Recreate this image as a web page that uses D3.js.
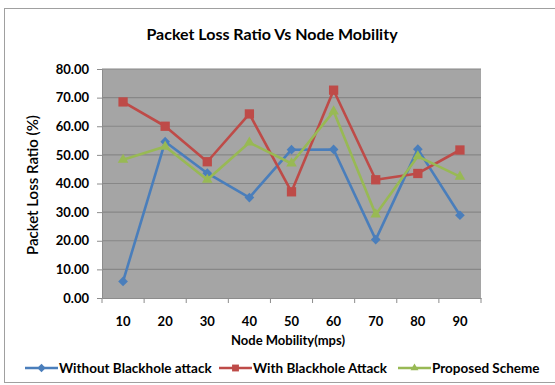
<!DOCTYPE html>
<html>
<head>
<meta charset="utf-8">
<script src="https://cdn.jsdelivr.net/npm/d3@7"></script>
<style>
  html, body { margin: 0; padding: 0; background: #fff; }
  svg { display: block; }
  text { font-family: Lato, "Open Sans", sans-serif; fill: #000; }
</style>
</head>
<body>
<svg id="chart" width="555" height="385"></svg>
<script>
// Node mobility (mps) categories
const mobility = ["10", "20", "30", "40", "50", "60", "70", "80", "90"];
// Packet loss ratio (%) per scheme
const withoutAttack = [5.8, 54.6, 43.6, 35.1, 51.8, 51.9, 20.4, 52.0, 28.9];
const withAttack    = [68.5, 60.0, 47.6, 64.3, 37.1, 72.6, 41.3, 43.5, 51.7];
const proposed      = [48.3, 52.9, 41.3, 54.3, 47.0, 65.2, 29.2, 49.5, 42.4];
const yTicks = [0, 10, 20, 30, 40, 50, 60, 70, 80];

const series = [
  { name: "Without Blackhole attack", values: withoutAttack, color: "#4a7ebb", marker: "diamond" },
  { name: "With Blackhole Attack",    values: withAttack,    color: "#be4b48", marker: "square" },
  { name: "Proposed Scheme",          values: proposed,      color: "#98b954", marker: "triangle" }
];

const svg = d3.select("#chart");

// chart frame
svg.append("rect")
  .attr("x", 4.5).attr("y", 8.5).attr("width", 560).attr("height", 374)
  .attr("fill", "#fff").attr("stroke", "#a0a0a0").attr("stroke-width", 1);

const plot = { left: 102, right: 481, top: 69, bottom: 298 };

const x = d3.scaleBand().domain(mobility).range([plot.left, plot.right]);
const y = d3.scaleLinear().domain([0, 80]).range([plot.bottom, plot.top]);

// plot area background
svg.append("rect")
  .attr("x", plot.left).attr("y", plot.top)
  .attr("width", plot.right - plot.left).attr("height", plot.bottom - plot.top)
  .attr("fill", "#a5a5a5");

// gridlines
svg.append("g")
  .selectAll("line")
  .data(yTicks.filter(d => d > 0))
  .join("line")
  .attr("x1", plot.left).attr("x2", plot.right)
  .attr("y1", d => y(d)).attr("y2", d => y(d))
  .attr("stroke", "#878787").attr("stroke-width", 1.2);

// y axis
const yAxis = svg.append("g")
  .attr("transform", `translate(${plot.left},0)`)
  .call(d3.axisLeft(y).tickValues(yTicks).tickFormat(d3.format(".2f")).tickSize(5).tickPadding(8));
yAxis.select(".domain").attr("stroke", "#8c8c8c");
yAxis.selectAll(".tick line").attr("stroke", "#8c8c8c");
yAxis.selectAll(".tick text")
  .attr("font-size", 13).attr("font-weight", "bold").attr("font-family", "Lato, sans-serif").attr("fill", "#000");

// x axis with ticks between categories
const xAxis = svg.append("g")
  .attr("transform", `translate(0,${plot.bottom})`)
  .call(d3.axisBottom(x).tickSize(0).tickPadding(19));
xAxis.select(".domain").attr("stroke", "#8c8c8c");
xAxis.selectAll(".tick text")
  .attr("font-size", 13).attr("font-weight", "bold").attr("font-family", "Lato, sans-serif").attr("fill", "#000");
xAxis.append("g")
  .selectAll("line")
  .data(d3.range(mobility.length + 1))
  .join("line")
  .attr("x1", i => plot.left + i * x.step()).attr("x2", i => plot.left + i * x.step())
  .attr("y1", 0).attr("y2", 5)
  .attr("stroke", "#8c8c8c");

// title and axis titles
svg.append("text")
  .attr("x", 272).attr("y", 40).attr("text-anchor", "middle")
  .attr("font-size", 16).attr("font-weight", "bold")
  .text("Packet Loss Ratio Vs Node Mobility");

svg.append("text")
  .attr("transform", "translate(38,185) rotate(-90)").attr("text-anchor", "middle")
  .attr("font-size", 15).attr("font-weight", 600)
  .text("Packet Loss Ratio (%)");

svg.append("text")
  .attr("x", 288).attr("y", 345).attr("text-anchor", "middle")
  .attr("font-size", 13).attr("font-weight", "bold")
  .text("Node Mobility(mps)");

// marker shapes
const symbolFor = {
  diamond: d3.symbol().type(d3.symbolDiamond2).size(60),
  square: d3.symbol().type(d3.symbolSquare2).size(110),
  triangle: d3.symbol().type(d3.symbolTriangle2).size(80)
};

const line = d3.line()
  .x((d, i) => x(mobility[i]) + x.bandwidth() / 2)
  .y(d => y(d));

series.forEach(s => {
  const g = svg.append("g");
  g.append("path")
    .attr("d", line(s.values))
    .attr("fill", "none").attr("stroke", s.color).attr("stroke-width", 2.6)
    .attr("stroke-linejoin", "round");
  g.selectAll("path.mark")
    .data(s.values)
    .join("path")
    .attr("class", "mark")
    .attr("d", symbolFor[s.marker])
    .attr("transform", (d, i) => `translate(${x(mobility[i]) + x.bandwidth() / 2},${y(d)})`)
    .attr("fill", s.color);
});

// legend
const legendX = [25, 219, 398];
const legend = svg.append("g").attr("transform", "translate(0,368)");
series.forEach((s, i) => {
  const g = legend.append("g").attr("transform", `translate(${legendX[i]},0)`);
  g.append("line").attr("x1", 0).attr("x2", 33).attr("y1", 0).attr("y2", 0)
    .attr("stroke", s.color).attr("stroke-width", 2.6);
  g.append("path").attr("d", symbolFor[s.marker].size(s.marker === "square" ? 60 : 45)())
    .attr("transform", "translate(16.5,0)").attr("fill", s.color);
  g.append("text").attr("x", 34).attr("y", 5)
    .attr("font-size", 13.5).attr("font-weight", "bold")
    .text(s.name);
});
</script>
</body>
</html>
